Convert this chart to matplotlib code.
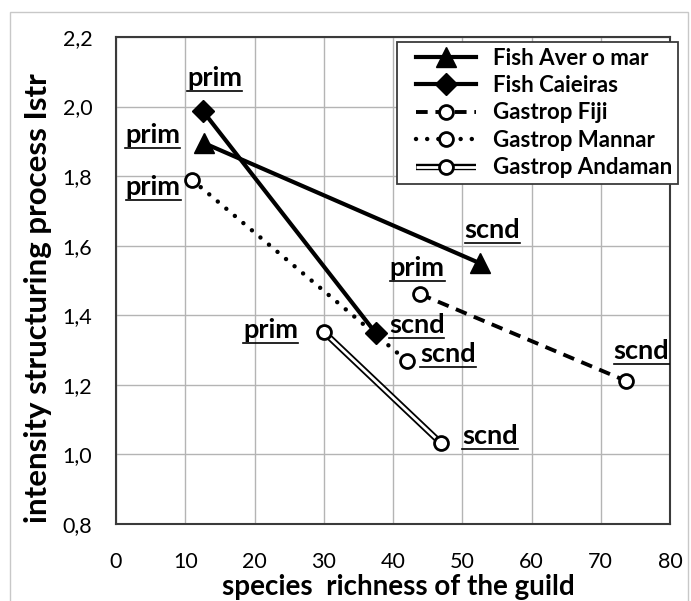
import matplotlib.pyplot as plt
import matplotlib.patches as mpatches
from matplotlib.lines import Line2D
from matplotlib.legend_handler import HandlerTuple, HandlerLine2D

plt.rcParams['font.family'] = ['Lato', 'DejaVu Sans']

# species richness (x) and structuring intensity (y), prim -> scnd
x_aver = [12.7, 52.5]
y_aver = [1.895, 1.55]
x_caie = [12.55, 37.5]
y_caie = [1.987, 1.349]
x_fiji = [43.9, 73.7]
y_fiji = [1.461, 1.211]
x_mann = [11.0, 42.0]
y_mann = [1.789, 1.269]
x_anda = [30.0, 46.9]
y_anda = [1.352, 1.033]

point_labels = ['prim', 'scnd']
x_ticks = [0, 10, 20, 30, 40, 50, 60, 70, 80]
y_ticks = [0.8, 1.0, 1.2, 1.4, 1.6, 1.8, 2.0, 2.2]
y_ticklabels = ['0,8', '1,0', '1,2', '1,4', '1,6', '1,8', '2,0', '2,2']

W, H = 691, 601
fig = plt.figure(figsize=(W / 100, H / 100), dpi=100)
ax = fig.add_axes([116 / W, 1 - 524 / H, (670 - 116) / W, (524 - 37) / H])

# outer chart border
fig.add_artist(mpatches.Rectangle((10 / W, -0.02), (688 - 10) / W, 1 - 12 / H + 0.02,
                                  transform=fig.transFigure, fill=False,
                                  edgecolor='#c8c8c8', lw=1))

l1, = ax.plot(x_aver, y_aver, color='black', lw=3, marker='^', ms=14,
              mfc='black', mec='black', zorder=4)
l2, = ax.plot(x_caie, y_caie, color='black', lw=3, marker='D', ms=11.5,
              mfc='black', mec='black', zorder=4)
l3, = ax.plot(x_fiji, y_fiji, color='black', lw=2.8, dashes=(3, 2),
              dash_capstyle='butt', marker='o', ms=10, mfc='white',
              mec='black', mew=2, zorder=4)
l4, = ax.plot(x_mann, y_mann, color='black', lw=3.2, linestyle=(0, (0.01, 2.5)),
              dash_capstyle='round', marker='o', ms=10, mfc='white',
              mec='black', mew=2, zorder=4)
# double line: black outline with white core
l5a, = ax.plot(x_anda, y_anda, color='black', lw=4.6, solid_capstyle='butt', zorder=3)
l5b, = ax.plot(x_anda, y_anda, color='white', lw=2, solid_capstyle='butt', zorder=3)
l5c, = ax.plot(x_anda, y_anda, ls='none', marker='o', ms=10, mfc='white',
               mec='black', mew=2, zorder=4)

ax.set_xlim(0, 80)
ax.set_ylim(0.8, 2.2)
ax.set_xticks(x_ticks)
ax.set_yticks(y_ticks)
ax.set_yticklabels(y_ticklabels)
ax.tick_params(length=0, labelsize=15.5, colors='black')
ax.tick_params(axis='x', pad=20)
ax.tick_params(axis='y', pad=17)
ax.grid(True, color='#b4b4b4', lw=1)
ax.set_axisbelow(True)
for s in ax.spines.values():
    s.set_color('#3a3a3a')
    s.set_linewidth(1.5)

fig.text(38 / W, 1 - 298 / H, 'intensity structuring process Istr', rotation=90,
         ha='center', va='center', fontsize=22.5, fontweight='bold')
fig.text(398 / W, 1 - 595 / H, 'species  richness of the guild',
         ha='center', va='baseline', fontsize=20, fontweight='bold')

# prim / scnd labels, offsets in pixels from each point
offsets = {
    'aver': [(-51, -4), (13, 21)],
    'caie': [(12, 21), (41, -4)],
    'fiji': [(-3, 14), (15, 18)],
    'mann': [(-39, -19), (41, -5)],
    'anda': [(-53, -10), (49, -5)],
}
series = {'aver': (x_aver, y_aver), 'caie': (x_caie, y_caie),
          'fiji': (x_fiji, y_fiji), 'mann': (x_mann, y_mann),
          'anda': (x_anda, y_anda)}
texts = []
for key, (xs, ys) in series.items():
    for i in range(2):
        t = ax.annotate(point_labels[i], (xs[i], ys[i]), xytext=offsets[key][i],
                        textcoords='offset pixels', ha='center', va='bottom',
                        fontsize=19.5, fontweight='bold', zorder=5)
        texts.append(t)

# xpad shifts the legend handles right without widening the box on the right
hpad = 0.585
leg = ax.legend([l1, l2, l3, l4, (l5a, l5b, l5c)],
                ['Fish Aver o mar', 'Fish Caieiras', 'Gastrop Fiji',
                 'Gastrop Mannar', 'Gastrop Andaman'],
                handler_map={Line2D: HandlerLine2D(xpad=hpad),
                             tuple: HandlerTuple(ndivide=1, xpad=hpad)},
                loc='upper left', bbox_to_anchor=(397 / W, 1 - 42 / H),
                bbox_transform=fig.transFigure, borderaxespad=0,
                prop={'size': 16, 'weight': 'bold'}, numpoints=1,
                handlelength=3.29, handletextpad=0.77, labelspacing=0.29,
                borderpad=0.25, fancybox=False, framealpha=1)
leg.get_frame().set_edgecolor('#3a3a3a')
leg.get_frame().set_linewidth(1.3)
leg.set_zorder(6)

# underline the point labels
fig.canvas.draw()
r = fig.canvas.get_renderer()
inv = fig.transFigure.inverted()
for t in texts:
    bb = t.get_window_extent(r)
    (x0, y0), (x1, _) = inv.transform([(bb.x0, bb.y0 - 1), (bb.x1, bb.y0)])
    fig.add_artist(Line2D([x0, x1], [y0, y0], transform=fig.transFigure,
                          color='black', lw=1.2))

fig.savefig('out.png', dpi=100)
